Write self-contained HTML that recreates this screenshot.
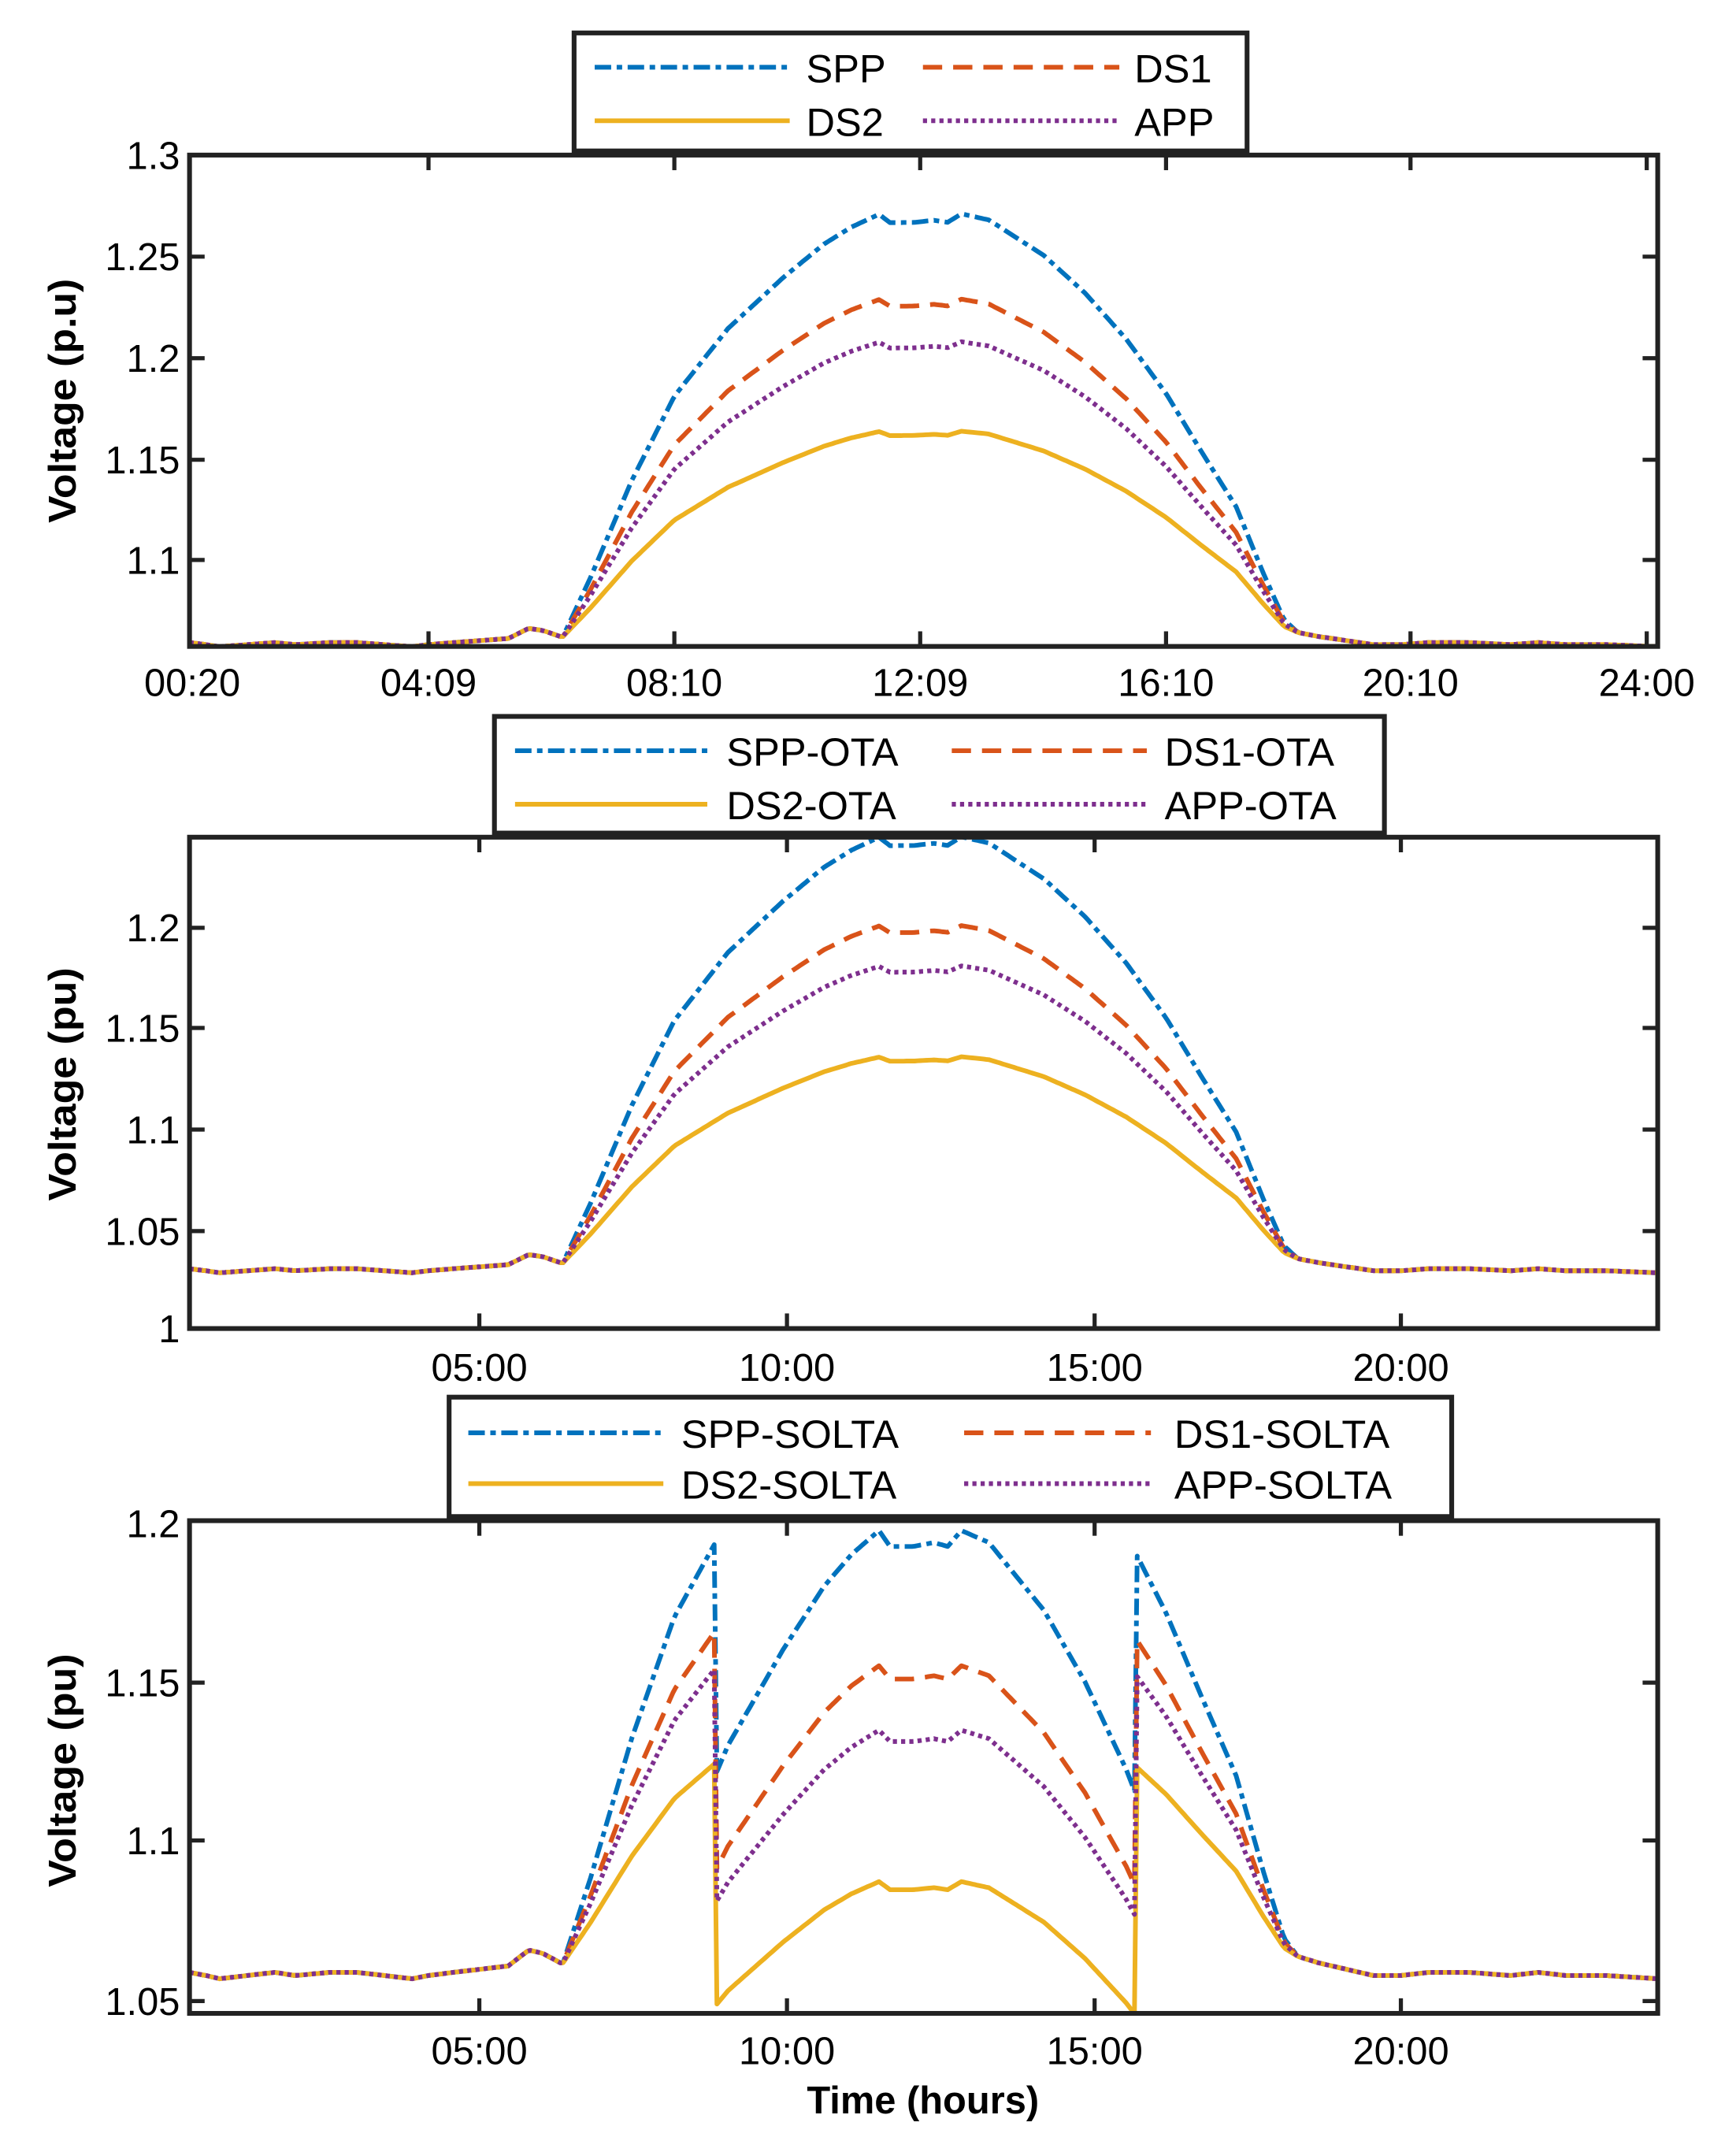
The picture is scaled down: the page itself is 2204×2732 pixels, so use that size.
<!DOCTYPE html>
<html><head><meta charset="utf-8"><style>
html,body{margin:0;padding:0;background:#fff;}
svg{display:block;}
text{font-family:"Liberation Sans",Arial,sans-serif;fill:#000;}
</style></head><body>
<svg id="s" width="2204" height="2732" viewBox="0 0 1264 1568" preserveAspectRatio="none" xmlns="http://www.w3.org/2000/svg">
<defs>
<clipPath id="c1"><rect x="138" y="113" width="1069" height="358"/></clipPath>
<clipPath id="c2"><rect x="138" y="610" width="1069" height="358"/></clipPath>
<clipPath id="c3"><rect x="138" y="1108" width="1069" height="359"/></clipPath>
</defs>
<g id="curves"></g>
<g id="axes" fill="none" stroke="#222" stroke-width="3.5">
<rect x="138" y="113" width="1069" height="358"/>
<rect x="138" y="610" width="1069" height="358"/>
<rect x="138" y="1108" width="1069" height="359"/>
</g>
<g id="ticks" stroke="#222" stroke-width="3"></g>
<g stroke-width="3.4" fill="none">
<rect x="418" y="24" width="490" height="86" fill="#fff" stroke="#222" stroke-width="3.5"/>
<line x1="433" y1="49" x2="575" y2="49" stroke="#0072BD" stroke-dasharray="12,4,4,4"/>
<line x1="672" y1="49" x2="815" y2="49" stroke="#D95319" stroke-dasharray="14,8"/>
<line x1="433" y1="88" x2="575" y2="88" stroke="#EDB120"/>
<line x1="672" y1="88" x2="815" y2="88" stroke="#7E2F8E" stroke-dasharray="3,3"/>
<rect x="360" y="522" width="648" height="85" fill="#fff" stroke="#222" stroke-width="3.5"/>
<line x1="375" y1="547" x2="515" y2="547" stroke="#0072BD" stroke-dasharray="12,4,4,4"/>
<line x1="693" y1="547" x2="835" y2="547" stroke="#D95319" stroke-dasharray="14,8"/>
<line x1="375" y1="586" x2="515" y2="586" stroke="#EDB120"/>
<line x1="693" y1="586" x2="835" y2="586" stroke="#7E2F8E" stroke-dasharray="3,3"/>
<rect x="327" y="1018" width="730" height="87" fill="#fff" stroke="#222" stroke-width="3.5"/>
<line x1="341" y1="1044" x2="483" y2="1044" stroke="#0072BD" stroke-dasharray="12,4,4,4"/>
<line x1="702" y1="1044" x2="838" y2="1044" stroke="#D95319" stroke-dasharray="14,8"/>
<line x1="341" y1="1081" x2="483" y2="1081" stroke="#EDB120"/>
<line x1="702" y1="1081" x2="838" y2="1081" stroke="#7E2F8E" stroke-dasharray="3,3"/>
</g>
<g font-size="29">
<text x="587" y="60">SPP</text><text x="826" y="60">DS1</text>
<text x="587" y="99">DS2</text><text x="826" y="99">APP</text>
<text x="529" y="558">SPP-OTA</text><text x="848" y="558">DS1-OTA</text>
<text x="529" y="597">DS2-OTA</text><text x="848" y="597">APP-OTA</text>
<text x="496" y="1055">SPP-SOLTA</text><text x="855" y="1055">DS1-SOLTA</text>
<text x="496" y="1092">DS2-SOLTA</text><text x="855" y="1092">APP-SOLTA</text>
</g>
<g font-size="28" text-anchor="end">
<text x="131" y="123">1.3</text><text x="131" y="197">1.25</text><text x="131" y="271">1.2</text>
<text x="131" y="345">1.15</text><text x="131" y="418">1.1</text>
<text x="131" y="686">1.2</text><text x="131" y="759">1.15</text><text x="131" y="833">1.1</text>
<text x="131" y="907">1.05</text><text x="131" y="978">1</text>
<text x="131" y="1120">1.2</text><text x="131" y="1236">1.15</text><text x="131" y="1351">1.1</text>
<text x="131" y="1468">1.05</text>
</g>
<g font-size="28" text-anchor="middle">
<text x="140" y="507">00:20</text><text x="312" y="507">04:09</text><text x="491" y="507">08:10</text>
<text x="670" y="507">12:09</text><text x="849" y="507">16:10</text><text x="1027" y="507">20:10</text>
<text x="1199" y="507">24:00</text>
<text x="349" y="1006">05:00</text><text x="573" y="1006">10:00</text><text x="797" y="1006">15:00</text><text x="1020" y="1006">20:00</text>
<text x="349" y="1504">05:00</text><text x="573" y="1504">10:00</text><text x="797" y="1504">15:00</text><text x="1020" y="1504">20:00</text>
<text x="672" y="1540" font-weight="bold" font-size="28">Time (hours)</text>
</g>
<g font-size="28" font-weight="bold" text-anchor="middle">
<text transform="translate(55,292) rotate(-90)" textLength="178" lengthAdjust="spacingAndGlyphs">Voltage (p.u)</text>
<text transform="translate(55,790) rotate(-90)" textLength="170" lengthAdjust="spacingAndGlyphs">Voltage (pu)</text>
<text transform="translate(55,1290) rotate(-90)" textLength="170" lengthAdjust="spacingAndGlyphs">Voltage (pu)</text>
</g>
</svg>
<script>
(function(){
var NS="http://www.w3.org/2000/svg";
function interp(pts,x){
  if(x<=pts[0][0])return pts[0][1];
  for(var i=1;i<pts.length;i++){if(x<=pts[i][0]){var a=pts[i-1],b=pts[i];return a[1]+(b[1]-a[1])*(x-a[0])/(b[0]-a[0]);}}
  return pts[pts.length-1][1];
}
var F=[[138,0],[410,0],[430,0.14],[460,0.37],[491,0.57],[530,0.73],[570,0.85],[600,0.93],[620,0.97],[640,1.0],[648,0.98],[665,0.98],[680,0.985],[690,0.98],[700,1.0],[720,0.985],[760,0.9],[790,0.81],[820,0.7],[849,0.57],[875,0.43],[900,0.30],[920,0.14],[935,0.03],[945,0],[1207,0]];
var D=[[138,0.001],[150,0],[160,-0.001],[180,0],[200,0.001],[215,0],[240,0.001],[260,0.001],[280,0],[300,-0.001],[312,0],[330,0.001],[350,0.002],[370,0.003],[385,0.008],[395,0.007],[408,0.004],[945,0.006],[960,0.004],[980,0.002],[1000,0.0],[1020,0],[1040,0.001],[1070,0.001],[1100,0.0],[1120,0.001],[1140,0],[1170,0],[1207,-0.001]];
function f(x){return interp(F,x);} function d(x){return interp(D,x);}
var cols={SPP:"#0072BD",DS1:"#D95319",DS2:"#EDB120",APP:"#7E2F8E"};
var dash={SPP:"12,4,4,4",DS1:"14,8",DS2:"",APP:"3,3"};
var order=["SPP","DS1","DS2","APP"];
var plots=[
 {clip:"c1",B:1.059,ytop:113,vtop:1.3,k:1480,A:{SPP:0.207,DS1:0.165,APP:0.144,DS2:0.100}},
 {clip:"c2",B:1.030,ytop:676,vtop:1.2,k:1470,A:{SPP:0.21,DS1:0.166,APP:0.146,DS2:0.101}},
 {clip:"c3",B:1.058,ytop:1110,vtop:1.2,k:2320,A:{SPP:0.19,DS1:0.15,APP:0.133,DS2:0.09},solta:true,
  E:{SPP:1.12,DS1:1.09,APP:1.08,DS2:1.048},S:{SPP:0.25,DS1:0.21,APP:0.177,DS2:0.127}}
];
var g=document.getElementById("curves");
plots.forEach(function(p){
  order.forEach(function(s){
    var pts=[];
    function val(x,inner){
      if(inner){return p.E[s]+p.S[s]*(f(x)-f(520));}
      return p.B+d(x)+p.A[s]*f(x);
    }
    for(var x=138;x<=1208;x+=2){
      var inner=p.solta&&x>520&&x<828;
      if(p.solta&&x===522){pts.push([520,val(520,false)]);}
      if(p.solta&&x===828){pts.push([826,val(826,true)]);}
      pts.push([x,val(x,inner)]);
    }
    var dd="";
    pts.forEach(function(q,i){var y=p.ytop+(p.vtop-q[1])*p.k;dd+=(i?"L":"M")+q[0].toFixed(1)+","+y.toFixed(1);});
    var e=document.createElementNS(NS,"path");
    e.setAttribute("d",dd);e.setAttribute("fill","none");e.setAttribute("stroke",cols[s]);
    e.setAttribute("stroke-width","3.4");e.setAttribute("stroke-linejoin","round");
    if(dash[s])e.setAttribute("stroke-dasharray",dash[s]);
    e.setAttribute("clip-path","url(#"+p.clip+")");
    g.appendChild(e);
  });
});
var t=document.getElementById("ticks");
function L(x1,y1,x2,y2){var e=document.createElementNS(NS,"line");e.setAttribute("x1",x1);e.setAttribute("y1",y1);e.setAttribute("x2",x2);e.setAttribute("y2",y2);t.appendChild(e);}
[[113,471,[312,491,670,849,1027,1199],[187,261,335,408]],
 [610,968,[349,573,797,1020],[676,749,823,897]],
 [1108,1467,[349,573,797,1020],[1226,1341,1458]]].forEach(function(a){
  a[2].forEach(function(x){L(x,a[0],x,a[0]+11);L(x,a[1],x,a[1]-11);});
  a[3].forEach(function(y){L(138,y,149,y);L(1207,y,1196,y);});
});
})();
</script>
</body></html>
